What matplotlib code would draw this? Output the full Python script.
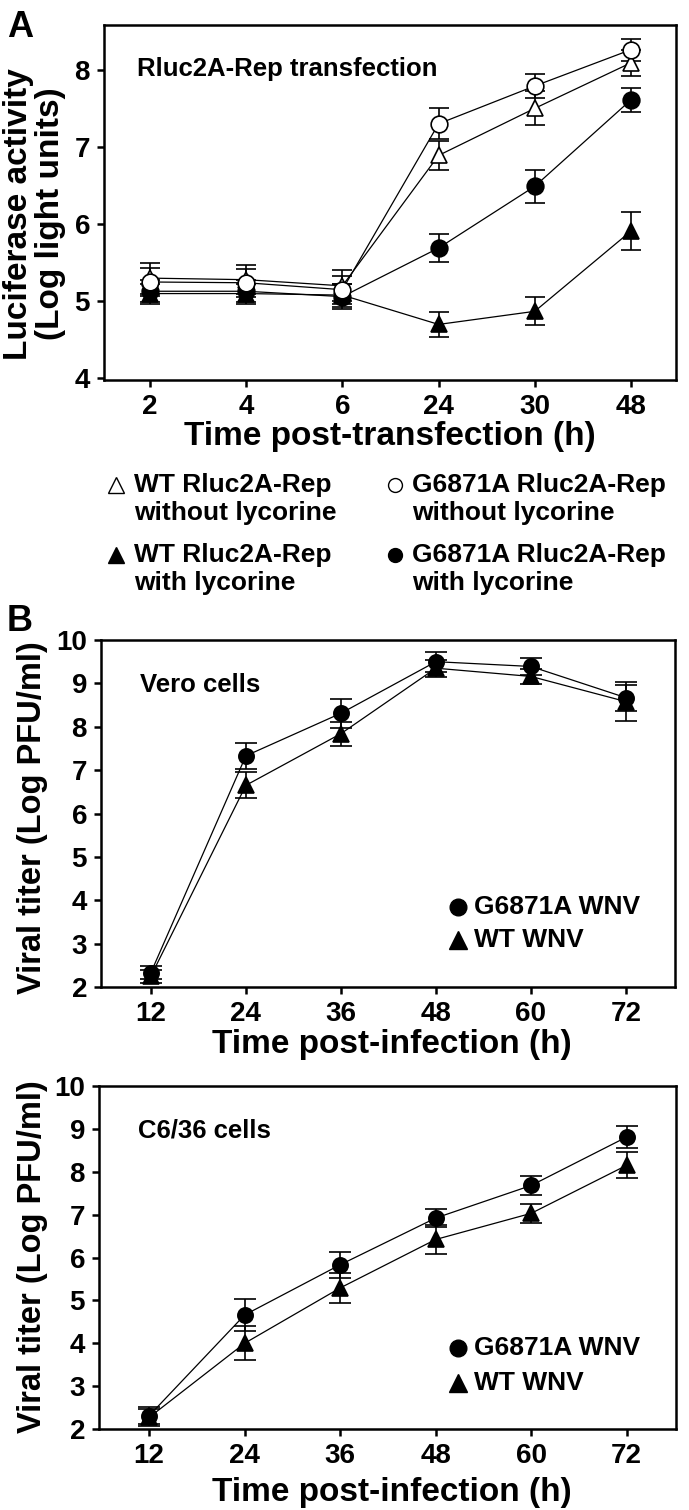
import numpy as np
import matplotlib
matplotlib.use('Agg')
import matplotlib.pyplot as plt
from matplotlib.lines import Line2D

plt.rcParams['font.family'] = ['Liberation Sans', 'DejaVu Sans']
plt.rcParams['font.weight'] = 'bold'

# panel A: luciferase activity after transfection
times_a = ['2', '4', '6', '24', '30', '48']
wt_without = [5.30, 5.28, 5.20, 6.89, 7.50, 8.09]
wt_without_err = [0.20, 0.19, 0.20, 0.19, 0.22, 0.17]
g_without = [5.25, 5.24, 5.15, 7.30, 7.79, 8.26]
g_without_err = [0.18, 0.18, 0.18, 0.20, 0.15, 0.14]
wt_with = [5.10, 5.10, 5.08, 4.70, 4.87, 5.91]
wt_with_err = [0.13, 0.13, 0.15, 0.16, 0.18, 0.25]
g_with = [5.13, 5.13, 5.06, 5.69, 6.49, 7.61]
g_with_err = [0.14, 0.14, 0.16, 0.18, 0.21, 0.16]

# panel B: viral titers after infection
times_b = [12, 24, 36, 48, 60, 72]
vero_g = [2.33, 7.33, 8.31, 9.50, 9.39, 8.67]
vero_g_err = [0.15, 0.30, 0.33, 0.23, 0.20, 0.30]
vero_wt = [2.25, 6.65, 7.84, 9.35, 9.16, 8.58]
vero_wt_err = [0.15, 0.30, 0.28, 0.20, 0.18, 0.45]
c636_g = [2.31, 4.66, 5.83, 6.92, 7.68, 8.81]
c636_g_err = [0.20, 0.38, 0.30, 0.22, 0.23, 0.26]
c636_wt = [2.27, 4.00, 5.29, 6.42, 7.03, 8.15]
c636_wt_err = [0.20, 0.40, 0.36, 0.33, 0.22, 0.30]

W, H = 689, 1510
fig = plt.figure(figsize=(W/100, H/100), dpi=100)

def box(l, t, r, b):
    return [l/W, 1-b/H, (r-l)/W, (b-t)/H]

def style(ax):
    for s in ['top', 'right', 'left', 'bottom']:
        ax.spines[s].set_linewidth(1.8)
    ax.tick_params(axis='both', which='both', direction='out', length=5, width=1.8,
                   labelsize=20, pad=5, top=False, right=False)

def series(ax, x, y, e, marker, face, ms=12, cap=7):
    ax.errorbar(x, y, yerr=e, fmt='-', color='black', lw=0.9, elinewidth=1.2,
                capsize=cap, capthick=1.2, marker=marker, ms=ms, mfc=face,
                mec='black', mew=1.2, zorder=3)

# ----- panel A
axA = fig.add_axes(box(104, 25, 676, 380))
style(axA)
xa = np.arange(len(times_a))
series(axA, xa, wt_with, wt_with_err, '^', 'black')
series(axA, xa, g_with, g_with_err, 'o', 'black')
series(axA, xa, wt_without, wt_without_err, '^', 'white')
series(axA, xa, g_without, g_without_err, 'o', 'white')
axA.set_xlim(-0.478, 5.468)
axA.set_ylim(3.98, 8.58)
axA.set_xticks(xa)
axA.set_xticklabels(times_a)
axA.set_yticks([4, 5, 6, 7, 8])
fig.text(390/W, 1-436/H, 'Time post-transfection (h)', fontsize=24, ha='center', va='center')
axA.text(0.058, 0.875, 'Rluc2A-Rep transfection', transform=axA.transAxes,
         fontsize=18.5, va='center', ha='left')
fig.text(19/W, 1-214/H, 'Luciferase activity', rotation=90, ha='center', va='center',
         fontsize=24)
fig.text(50/W, 1-214/H, '(Log light units)', rotation=90, ha='center', va='center',
         fontsize=24)
fig.text(7/W, 1-37/H, 'A', fontsize=26)

# legend for panel A
leg_rows = [485, 513, 555, 582]
entries = [
    (116, 134, leg_rows[0], '^', 'white', 'WT Rluc2A-Rep', 'without lycorine'),
    (395, 412, leg_rows[0], 'o', 'white', 'G6871A Rluc2A-Rep', 'without lycorine'),
    (116, 134, leg_rows[2], '^', 'black', 'WT Rluc2A-Rep', 'with lycorine'),
    (395, 412, leg_rows[2], 'o', 'black', 'G6871A Rluc2A-Rep', 'with lycorine'),
]
for mx, tx, ry, mk, fc, l1, l2 in entries:
    fig.add_artist(Line2D([mx/W], [1-ry/H], marker=mk, ms=12 if mk == '^' else 10,
                          mfc=fc, mec='black', mew=1.0, ls='none'))
    fig.text(tx/W, 1-ry/H, l1, fontsize=19, va='center', ha='left')
    fig.text(tx/W, 1-(ry+28)/H, l2, fontsize=19, va='center', ha='left')

fig.text(7/W, 1-631/H, 'B', fontsize=26)

# ----- panel B
def panelB(rect, g, ge, wt, we, label, ly1, ly2, xlab_y, mid_y):
    ax = fig.add_axes(rect)
    style(ax)
    series(ax, times_b, wt, we, '^', 'black', ms=12, cap=8)
    series(ax, times_b, g, ge, 'o', 'black', ms=11, cap=8)
    ax.set_xlim(5.7, 78.2)
    ax.set_ylim(2, 10)
    ax.set_xticks(times_b)
    ax.set_yticks(range(2, 11))
    fig.text(392/W, 1-xlab_y/H, 'Time post-infection (h)', fontsize=24,
             ha='center', va='center')
    fig.text(33/W, 1-mid_y/H, 'Viral titer (Log PFU/ml)', fontsize=23.5, rotation=90,
             ha='center', va='center')
    ax.text(0.068, 0.87, label, transform=ax.transAxes, fontsize=18.5, va='center')
    ax.plot([0.622], [ly1], transform=ax.transAxes, marker='o', ms=12, color='black',
            ls='none', clip_on=False)
    ax.plot([0.622], [ly2], transform=ax.transAxes, marker='^', ms=13, color='black',
            ls='none', clip_on=False)
    ax.text(0.65, ly1, 'G6871A WNV', transform=ax.transAxes, fontsize=19, va='center')
    ax.text(0.65, ly2, 'WT WNV', transform=ax.transAxes, fontsize=19, va='center')
    return ax

panelB(box(101, 640, 675, 987), vero_g, vero_g_err, vero_wt, vero_wt_err,
       'Vero cells', 0.23, 0.135, 1045, 818)
panelB(box(99, 1086, 676, 1429), c636_g, c636_g_err, c636_wt, c636_wt_err,
       'C6/36 cells', 0.237, 0.133, 1492, 1257)

fig.savefig('out.png', dpi=100)
